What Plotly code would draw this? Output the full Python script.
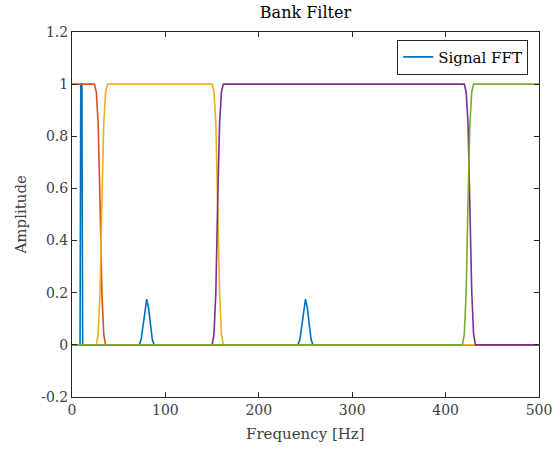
import plotly.graph_objects as go

# Signal FFT (blue)
sig_f = [0, 8.6, 9.4, 10.6, 11.4, 72, 74, 76, 78, 80, 82, 84, 86, 88,
         242, 244, 246, 248, 250, 252, 254, 256, 258, 500]
sig_a = [0, 0, 1.0, 1.0, 0, 0, 0.02, 0.07, 0.14, 0.175, 0.14, 0.07, 0.02, 0,
         0, 0.02, 0.07, 0.14, 0.175, 0.14, 0.07, 0.02, 0, 0]

# Filter bank responses (breakpoints)
lp_f = [0, 24, 26, 28, 30, 32, 34, 36, 500]
lp_a = [1, 1, 0.97, 0.85, 0.55, 0.2, 0.04, 0, 0]

bp1_f = [0, 26, 28, 30, 32, 34, 36, 38, 150, 152, 154, 156, 158, 160, 162, 500]
bp1_a = [0, 0, 0.04, 0.2, 0.55, 0.85, 0.97, 1, 1, 0.97, 0.85, 0.55, 0.2, 0.04, 0, 0]

bp2_f = [0, 150, 152, 154, 156, 158, 160, 162, 420, 422, 424, 426, 428, 430, 432, 500]
bp2_a = [0, 0, 0.04, 0.2, 0.55, 0.85, 0.97, 1, 1, 0.97, 0.85, 0.55, 0.2, 0.04, 0, 0]

hp_f = [0, 418, 420, 422, 424, 426, 428, 430, 500]
hp_a = [0, 0, 0.04, 0.2, 0.55, 0.85, 0.97, 1, 1]

xticks = [0, 100, 200, 300, 400, 500]
yticks = [-0.2, 0, 0.2, 0.4, 0.6, 0.8, 1.0, 1.2]
yticklabels = ["-0.2", "0", "0.2", "0.4", "0.6", "0.8", "1", "1.2"]

FONT = "DejaVu Serif"
AX = "#262626"

fig = go.Figure()
fig.add_trace(go.Scatter(x=sig_f, y=sig_a, mode="lines", name="Signal FFT",
                         line=dict(color="#0072BD", width=1.6)))
for f, a, c in [(lp_f, lp_a, "#D95319"), (bp1_f, bp1_a, "#EDB120"),
                (bp2_f, bp2_a, "#7E2F8E"), (hp_f, hp_a, "#77AC30")]:
    fig.add_trace(go.Scatter(x=f, y=a, mode="lines", showlegend=False,
                             line=dict(color=c, width=1.6)))

axcommon = dict(showline=True, linecolor=AX, linewidth=1, mirror="ticks",
                ticks="inside", ticklen=5, tickcolor=AX, showgrid=False,
                zeroline=False, automargin=False,
                tickfont=dict(family=FONT, size=14, color="#404040"))
fig.update_xaxes(range=[0, 500], tickvals=xticks, ticktext=[str(v) for v in xticks],
                 **axcommon)
fig.update_yaxes(range=[-0.2, 1.2], tickvals=yticks, ticktext=yticklabels,
                 **axcommon)

fig.add_annotation(text="Frequency [Hz]", xref="paper", yref="paper", x=0.5, y=0,
                   xanchor="center", yanchor="middle", yshift=-37, showarrow=False,
                   font=dict(family=FONT, size=15, color="#404040"))
fig.add_annotation(text="Amplitude", xref="paper", yref="paper", x=0, y=0.5,
                   xanchor="center", yanchor="middle", xshift=-52, textangle=-90,
                   showarrow=False, font=dict(family=FONT, size=15, color="#404040"))

fig.update_layout(
    width=553, height=452,
    margin=dict(l=72, r=14, t=32, b=55),
    paper_bgcolor="white", plot_bgcolor="white",
    title=dict(text="Bank Filter", x=0.5, xanchor="center", xref="paper",
               y=1 - 12 / 452, yref="container", yanchor="middle",
               font=dict(family=FONT, size=16, color="black")),
    legend=dict(x=0.977, xanchor="right", y=0.979, yanchor="top",
                bordercolor=AX, borderwidth=1, bgcolor="white",
                font=dict(family=FONT, size=15, color="black")),
    showlegend=True,
)

fig.write_html("out.html")
